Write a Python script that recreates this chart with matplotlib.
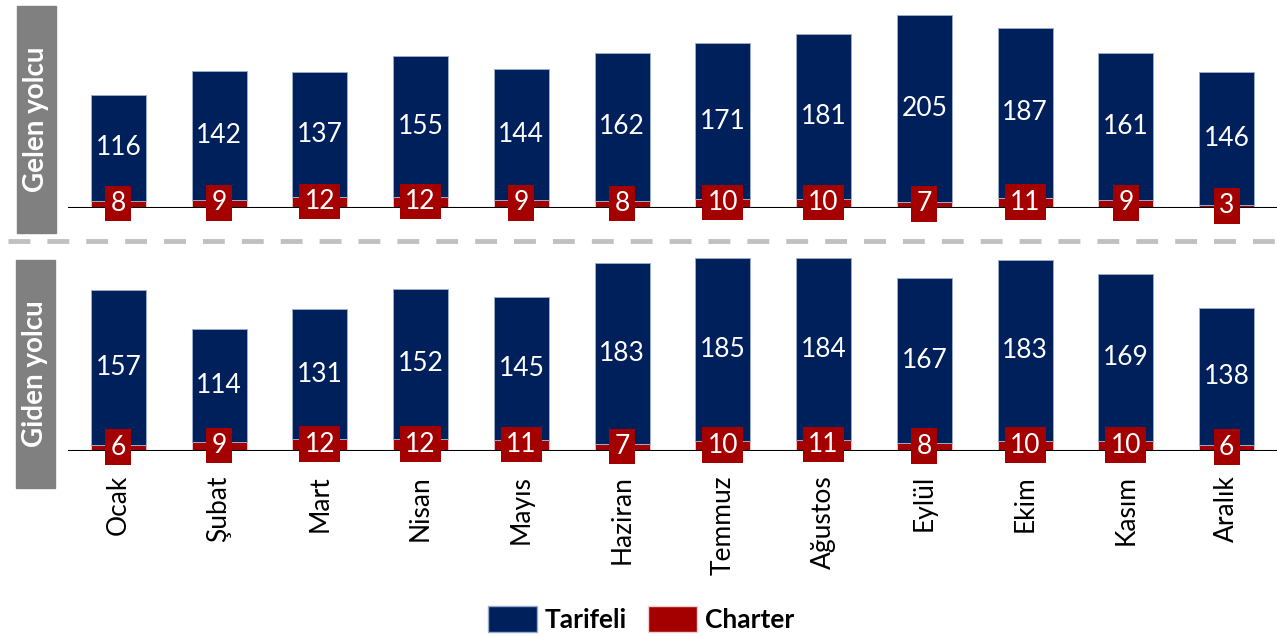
import matplotlib
matplotlib.use("Agg")
import matplotlib.pyplot as plt
from matplotlib.patches import Rectangle, Patch
from matplotlib.lines import Line2D

plt.rcParams['font.family'] = ['Lato', 'DejaVu Sans']

months = ["Ocak", "Şubat", "Mart", "Nisan", "Mayıs", "Haziran", "Temmuz",
          "Ağustos", "Eylül", "Ekim", "Kasım", "Aralık"]
gelen_tarifeli = [116, 142, 137, 155, 144, 162, 171, 181, 205, 187, 161, 146]
gelen_charter = [8, 9, 12, 12, 9, 8, 10, 10, 7, 11, 9, 3]
giden_tarifeli = [157, 114, 131, 152, 145, 183, 185, 184, 167, 183, 169, 138]
giden_charter = [6, 9, 12, 12, 11, 7, 10, 11, 8, 10, 10, 6]
panel_titles = ["Gelen yolcu", "Giden yolcu"]
legend_labels = ["Tarifeli", "Charter"]

NAVY = "#00205b"
RED = "#a50000"
GREY = "#808080"
W, H = 1277, 637

fig = plt.figure(figsize=(12.77, 6.37), dpi=100)

def fy(py):
    return 1 - py / H

def fx(px):
    return px / W

panels = [
    (gelen_tarifeli, gelen_charter, 208, 15),
    (giden_tarifeli, giden_charter, 451, 258),
]
x = list(range(len(months)))
axes = []
for (tar, cha, base_py, top_py) in panels:
    ax = fig.add_axes([fx(68), fy(base_py), 1 - fx(68), fy(top_py) - fy(base_py)])
    axes.append(ax)
    tot = [a + b for a, b in zip(tar, cha)]
    ax.bar(x, cha, width=0.545, color=RED, edgecolor="#f0d0d0", linewidth=0.6, zorder=2)
    ax.bar(x, tar, bottom=cha, width=0.545, color=NAVY, edgecolor="#9aaccc", linewidth=0.7, zorder=2)
    ax.set_xlim(-0.5, 11.5)
    ax.set_ylim(0, max(tot))
    for s in ax.spines.values():
        s.set_visible(False)
    ax.axhline(0, color="black", lw=1.5, zorder=3)
    ax.set_yticks([])
    ax.set_xticks([])
    for i in x:
        ax.text(i, cha[i] + tar[i] / 2, str(tar[i]), color="white", fontsize=19,
                ha="center", va="center", zorder=5)
        ax.text(i, cha[i] / 2 + 1, str(cha[i]), color="white", fontsize=19,
                ha="center", va="center", zorder=6, clip_on=False,
                bbox=dict(boxstyle="square,pad=0.2", fc=RED, ec="none"))

# month labels under bottom panel
axb = axes[1]
for i, m in enumerate(months):
    axb.annotate(m, xy=(i, 0), xycoords="data", xytext=(0, -24), textcoords="offset pixels",
                 rotation=90, ha="center", va="top", fontsize=19, color="black",
                 annotation_clip=False)

# grey side boxes
boxes = [(17, 6, 39, 227), (16, 260, 39, 228)]
for (bx, by, bw, bh), title in zip(boxes, panel_titles):
    fig.patches.append(Rectangle((fx(bx), fy(by + bh)), bw / W, bh / H,
                                 transform=fig.transFigure, color=GREY, zorder=0))
    fig.text(fx(bx + bw / 2), fy(by + bh / 2), title, rotation=90, color="white",
             fontsize=20, fontweight="bold", ha="center", va="center")

# dashed separator
fig.add_artist(Line2D([fx(8), 1.0], [fy(241), fy(241)], transform=fig.transFigure,
                      color="#c0c0c0", lw=3.5, linestyle=(0, (4.5, 3.5))))

handles = [Patch(facecolor=NAVY, edgecolor="#9aaccc", label=legend_labels[0]),
           Patch(facecolor=RED, edgecolor="#f0d0d0", label=legend_labels[1])]
fig.legend(handles=handles, loc="center", bbox_to_anchor=(fx(641), fy(619)), ncol=2,
           frameon=False, prop=dict(size=19, weight="bold"), handlelength=1.85,
           handleheight=1.15, handletextpad=0.3, columnspacing=0.8)

fig.savefig("out.png", dpi=100)
